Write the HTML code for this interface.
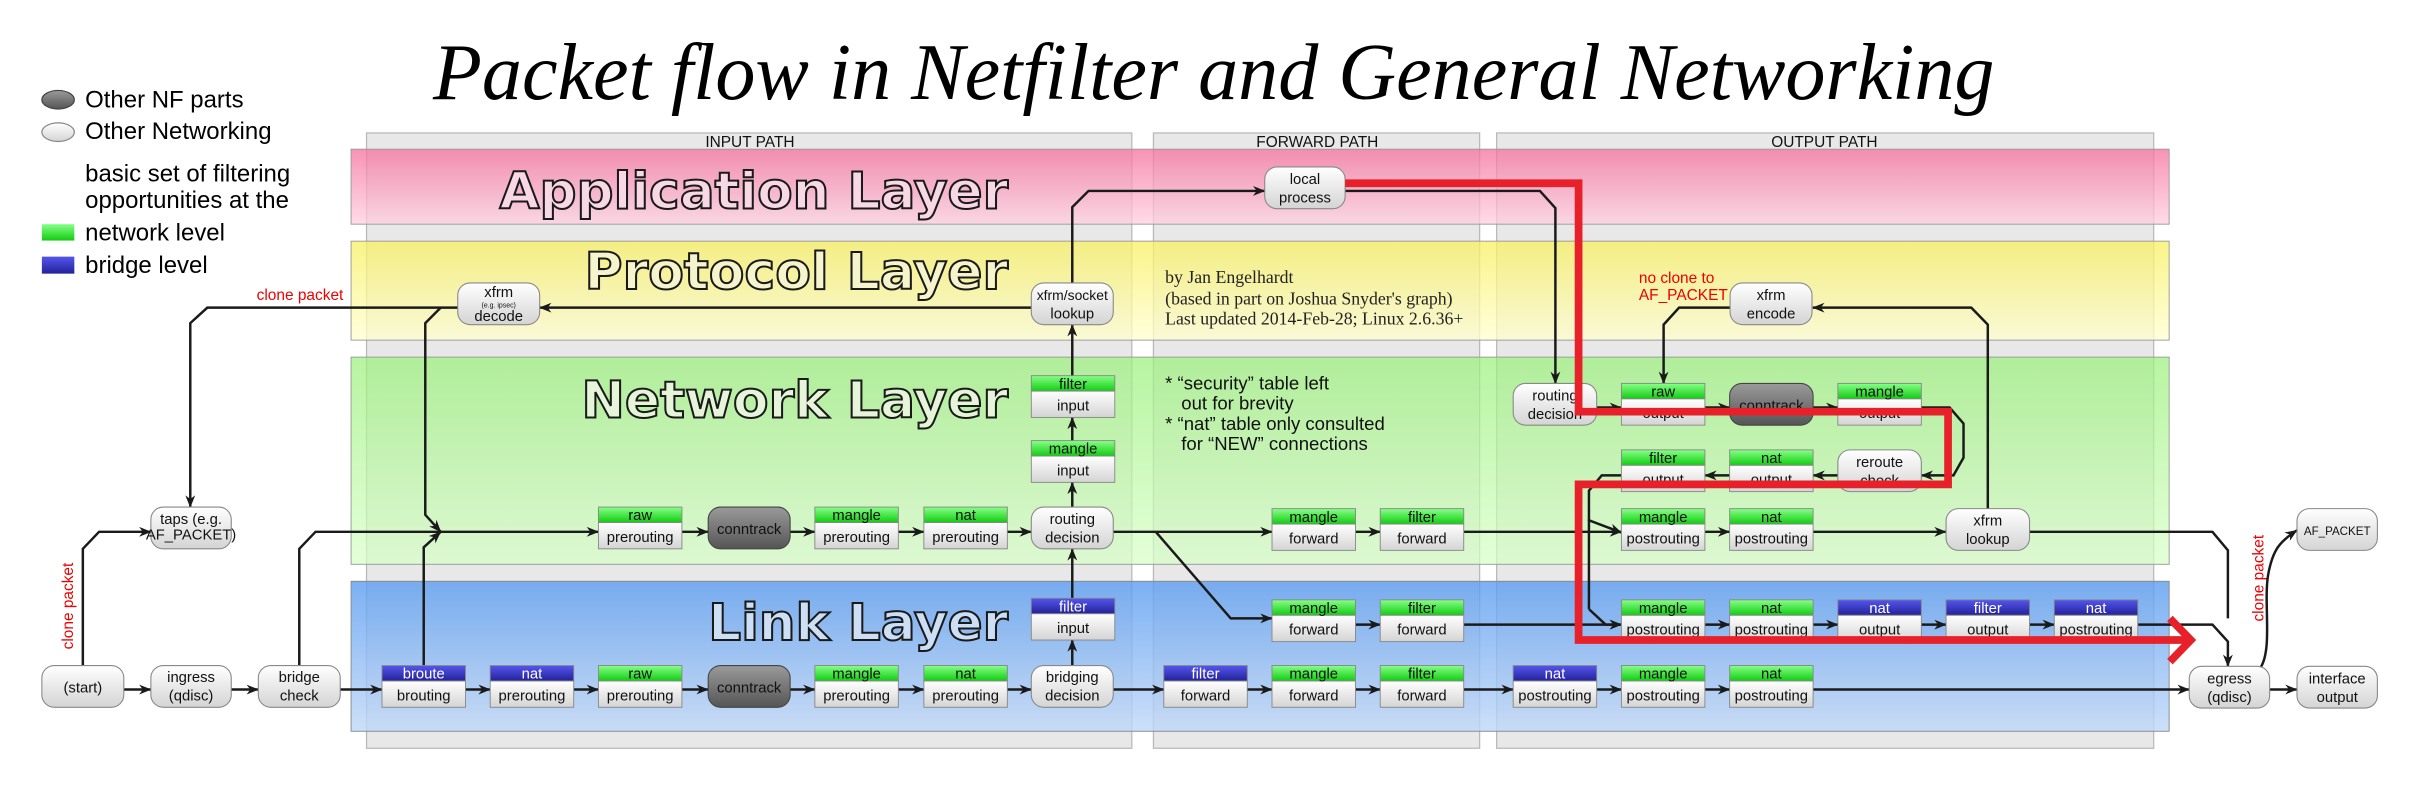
<!DOCTYPE html>
<html><head><meta charset="utf-8"><style>
html,body{margin:0;padding:0;background:#fff;}
svg{display:block;}
.n{font-family:"Liberation Sans",sans-serif;font-size:9.6px;text-anchor:middle;fill:#111;}
.hw{fill:#fff;}
.ln{fill:none;stroke:#1a1a1a;stroke-width:1.6;marker-end:url(#ar);}
.lp{fill:none;stroke:#1a1a1a;stroke-width:1.6;}
.lt{font-family:"DejaVu Sans",sans-serif;font-weight:bold;font-size:33px;stroke:#1a1a1a;stroke-width:1.3;}
</style></head><body>
<svg width="2412" height="790" viewBox="0 0 1560 511" xmlns="http://www.w3.org/2000/svg">
<defs>
<marker id="ar" viewBox="0 0 10 8" refX="9.5" refY="4" markerWidth="8" markerHeight="6.4" markerUnits="userSpaceOnUse" orient="auto"><path d="M0,0 L10,4 L0,8 L3,4 z" fill="#1a1a1a"/></marker>
<linearGradient id="gw" x1="0" y1="0" x2="0" y2="1"><stop offset="0" stop-color="#fff"/><stop offset="1" stop-color="#d4d4d4"/></linearGradient>
<linearGradient id="gd" x1="0" y1="0" x2="0" y2="1"><stop offset="0" stop-color="#9a9a9a"/><stop offset="1" stop-color="#555"/></linearGradient>
<linearGradient id="gg" x1="0" y1="0" x2="0" y2="1"><stop offset="0" stop-color="#8f8"/><stop offset="1" stop-color="#1c1"/></linearGradient>
<linearGradient id="gb" x1="0" y1="0" x2="0" y2="1"><stop offset="0" stop-color="#55e"/><stop offset="1" stop-color="#229"/></linearGradient>
<linearGradient id="bp" x1="0" y1="0" x2="0" y2="1"><stop offset="0" stop-color="#f56f9c" stop-opacity=".75"/><stop offset="1" stop-color="#ffd0e0" stop-opacity=".75"/></linearGradient>
<linearGradient id="by" x1="0" y1="0" x2="0" y2="1"><stop offset="0" stop-color="#f8f060" stop-opacity=".75"/><stop offset="1" stop-color="#ffffd0" stop-opacity=".75"/></linearGradient>
<linearGradient id="bg" x1="0" y1="0" x2="0" y2="1"><stop offset="0" stop-color="#98f078" stop-opacity=".7"/><stop offset="1" stop-color="#d8ffc8" stop-opacity=".7"/></linearGradient>
<linearGradient id="bb" x1="0" y1="0" x2="0" y2="1"><stop offset="0" stop-color="#5a9cf0" stop-opacity=".8"/><stop offset="1" stop-color="#c0d8f8" stop-opacity=".8"/></linearGradient>
</defs>

<text x="280" y="64" font-family="Liberation Serif,serif" font-style="italic" font-size="52" textLength="1010" lengthAdjust="spacingAndGlyphs" fill="#000">Packet flow in Netfilter and General Networking</text>

<ellipse cx="37.5" cy="64.5" rx="10.5" ry="6" fill="url(#gd)" stroke="#444" stroke-width=".8"/>
<ellipse cx="37.5" cy="85.5" rx="10.5" ry="6" fill="url(#gw)" stroke="#888" stroke-width=".8"/>
<g font-family="Liberation Sans,sans-serif" font-size="15.5" fill="#000">
<text x="55" y="69.5">Other NF parts</text>
<text x="55" y="90">Other Networking</text>
<text x="55" y="117.5">basic set of filtering</text>
<text x="55" y="134.7">opportunities at the</text>
<text x="55" y="155.5">network level</text>
<text x="55" y="176.7">bridge level</text>
</g>
<rect x="27" y="145" width="21" height="10.6" fill="url(#gg)"/>
<rect x="27" y="166" width="21" height="11" fill="url(#gb)"/>

<rect x="237" y="86" width="495" height="398" fill="#e8e8e8" stroke="#b8b8b8" stroke-width=".8"/>
<rect x="746" y="86" width="211" height="398" fill="#e8e8e8" stroke="#b8b8b8" stroke-width=".8"/>
<rect x="968" y="86" width="425" height="398" fill="#e8e8e8" stroke="#b8b8b8" stroke-width=".8"/>
<g font-family="Liberation Sans,sans-serif" font-size="10" text-anchor="middle" fill="#111">
<text x="485" y="95">INPUT PATH</text><text x="852" y="95">FORWARD PATH</text><text x="1180" y="95">OUTPUT PATH</text></g>

<rect x="227" y="96.5" width="1176" height="48.5" fill="url(#bp)" stroke="#999" stroke-width=".6"/>
<rect x="227" y="156" width="1176" height="64" fill="url(#by)" stroke="#999" stroke-width=".6"/>
<rect x="227" y="231" width="1176" height="134" fill="url(#bg)" stroke="#999" stroke-width=".6"/>
<rect x="227" y="376" width="1176" height="97" fill="url(#bb)" stroke="#888" stroke-width=".6"/>

<text class="lt" x="323" y="135" textLength="329" lengthAdjust="spacingAndGlyphs" fill="#f8d8e4">Application Layer</text>
<text class="lt" x="378" y="187" textLength="274" lengthAdjust="spacingAndGlyphs" fill="#f5f4cc">Protocol Layer</text>
<text class="lt" x="376" y="270" textLength="276" lengthAdjust="spacingAndGlyphs" fill="#e6f5da">Network Layer</text>
<text class="lt" x="458" y="414" textLength="194" lengthAdjust="spacingAndGlyphs" fill="#cddff5">Link Layer</text>

<g font-family="Liberation Serif,serif" font-size="11.5" fill="#222">
<text x="753.6" y="183">by Jan Engelhardt</text>
<text x="753.6" y="197">(based in part on Joshua Snyder's graph)</text>
<text x="753.6" y="210">Last updated 2014-Feb-28; Linux 2.6.36+</text>
</g>
<g font-family="Liberation Sans,sans-serif" font-size="12" fill="#111">
<text x="753.6" y="252">* “security” table left</text>
<text x="764" y="265">out for brevity</text>
<text x="753.6" y="278">* “nat” table only consulted</text>
<text x="764" y="291">for “NEW” connections</text>
</g>
<g font-family="Liberation Sans,sans-serif" font-size="10" fill="#e00">
<text x="1060" y="183">no clone to</text><text x="1060" y="194">AF_PACKET</text>
<text x="222" y="194" text-anchor="end">clone packet</text>
<text transform="translate(47,392) rotate(-90)" text-anchor="middle">clone packet</text>
<text transform="translate(1464,374) rotate(-90)" text-anchor="middle">clone packet</text>
</g>

<g>
<polyline class="ln" points="80,446 97.5,446"/>
<polyline class="ln" points="149.5,446 167,446"/>
<polyline class="ln" points="220,446 247,446"/>
<polyline class="ln" points="301,446 317,446"/>
<polyline class="ln" points="371,446 387,446"/>
<polyline class="ln" points="441,446 458,446"/>
<polyline class="ln" points="511,446 527,446"/>
<polyline class="ln" points="581,446 597.5,446"/>
<polyline class="ln" points="651.5,446 667,446"/>
<polyline class="ln" points="720,446 752.7,446"/>
<polyline class="ln" points="806.7,446 822.7,446"/>
<polyline class="ln" points="876.7,446 892.7,446"/>
<polyline class="ln" points="946.7,446 978.7,446"/>
<polyline class="ln" points="1032.7,446 1048.7,446"/>
<polyline class="ln" points="1102.7,446 1118.7,446"/>
<polyline class="ln" points="1172.7,446 1416,446"/>
<polyline class="ln" points="1468,446 1485.7,446"/>
<polyline class="ln" points="693.5,430.5 693.5,414"/>
<polyline class="ln" points="693.5,387 693.5,355"/>
<polyline class="ln" points="693.5,328 693.5,312"/>
<polyline class="ln" points="693.5,285 693.5,270"/>
<polyline class="ln" points="693.5,243 693.5,210"/>
<polyline class="ln" points="693.5,183 693.5,134 704,123.5 818,123.5"/>
<polyline class="ln" points="667,199 349,199"/>
<polyline class="ln" points="296,199 134,199 123,209 123,328"/>
<polyline class="ln" points="285,199 275,209 275,333 285,344"/>
<polyline class="ln" points="274,430.5 274,354 285,344"/>
<polyline class="ln" points="193.5,430.5 193.5,355 204,344 387,344"/>
<polyline class="ln" points="53.5,430.5 53.5,355 64,344 97.5,344"/>
<polyline class="ln" points="441,344 458,344"/>
<polyline class="ln" points="511,344 527,344"/>
<polyline class="ln" points="581,344 597.5,344"/>
<polyline class="ln" points="651.5,344 667,344"/>
<polyline class="ln" points="720,344 822.7,344"/>
<polyline class="ln" points="747.5,344 796,400 822.7,400"/>
<polyline class="ln" points="876.7,344 892.7,344"/>
<polyline class="ln" points="946.7,344 1048.7,344"/>
<polyline class="ln" points="1102.7,344 1118.7,344"/>
<polyline class="ln" points="1172.7,344 1258.7,344"/>
<polyline class="lp" points="1312.7,344 1431,344 1441,356 1441,400"/>
<polyline class="ln" points="876.7,404 892.7,404"/>
<polyline class="ln" points="946.7,404 1048.7,404"/>
<polyline class="ln" points="1102.7,404 1118.7,404"/>
<polyline class="ln" points="1172.7,404 1188.7,404"/>
<polyline class="ln" points="1242.7,404 1258.7,404"/>
<polyline class="ln" points="1312.7,404 1328.7,404"/>
<polyline class="ln" points="1382.7,404 1431,404 1441,415 1441,431"/>
<polyline class="ln" points="1285.7,329 1285.7,210 1275,199 1172.5,199"/>
<polyline class="ln" points="1119,199 1086,199 1076,210 1076,248"/>
<polyline class="ln" points="870,123.5 996,123.5 1006,134.6 1006,248"/>
<polyline class="ln" points="1032.7,263.6 1048.7,263.6"/>
<polyline class="ln" points="1102.7,263.6 1118.7,263.6"/>
<polyline class="ln" points="1172.7,263.6 1188.7,263.6"/>
<polyline class="ln" points="1242.7,263.6 1261,263.6 1270,274 1270,296 1263.5,307.5 1242.7,307.5"/>
<polyline class="ln" points="1188.7,307.5 1172.7,307.5"/>
<polyline class="ln" points="1118.7,307.5 1102.7,307.5"/>
<polyline class="lp" points="1048.7,307.5 1036,307.5 1027.7,317.4 1027.7,394"/>
<polyline class="ln" points="1027.7,336 1027.7,336.5 1048.7,344.5"/>
<polyline class="ln" points="1027.7,394 1038.5,404 1048.7,404"/>
<path class="ln" d="M1462,432 C1470,420 1464,390 1467,372 C1470,355 1475,350 1485.7,343"/>
</g>

<g stroke="#888" stroke-width=".6">
<rect x="247" y="430.5" width="54" height="10" fill="url(#gb)"/><rect x="247" y="440.5" width="54" height="17" fill="url(#gw)"/>
<rect x="317" y="430.5" width="54" height="10" fill="url(#gb)"/><rect x="317" y="440.5" width="54" height="17" fill="url(#gw)"/>
<rect x="387" y="430.5" width="54" height="10" fill="url(#gg)"/><rect x="387" y="440.5" width="54" height="17" fill="url(#gw)"/>
<rect x="527" y="430.5" width="54" height="10" fill="url(#gg)"/><rect x="527" y="440.5" width="54" height="17" fill="url(#gw)"/>
<rect x="597.5" y="430.5" width="54" height="10" fill="url(#gg)"/><rect x="597.5" y="440.5" width="54" height="17" fill="url(#gw)"/>
<rect x="752.7" y="430.5" width="54" height="10" fill="url(#gb)"/><rect x="752.7" y="440.5" width="54" height="17" fill="url(#gw)"/>
<rect x="822.7" y="430.5" width="54" height="10" fill="url(#gg)"/><rect x="822.7" y="440.5" width="54" height="17" fill="url(#gw)"/>
<rect x="892.7" y="430.5" width="54" height="10" fill="url(#gg)"/><rect x="892.7" y="440.5" width="54" height="17" fill="url(#gw)"/>
<rect x="978.7" y="430.5" width="54" height="10" fill="url(#gb)"/><rect x="978.7" y="440.5" width="54" height="17" fill="url(#gw)"/>
<rect x="1048.7" y="430.5" width="54" height="10" fill="url(#gg)"/><rect x="1048.7" y="440.5" width="54" height="17" fill="url(#gw)"/>
<rect x="1118.7" y="430.5" width="54" height="10" fill="url(#gg)"/><rect x="1118.7" y="440.5" width="54" height="17" fill="url(#gw)"/>
<rect x="667" y="387" width="54" height="10" fill="url(#gb)"/><rect x="667" y="397" width="54" height="17" fill="url(#gw)"/>
<rect x="387" y="328" width="54" height="10" fill="url(#gg)"/><rect x="387" y="338" width="54" height="17" fill="url(#gw)"/>
<rect x="527" y="328" width="54" height="10" fill="url(#gg)"/><rect x="527" y="338" width="54" height="17" fill="url(#gw)"/>
<rect x="597.5" y="328" width="54" height="10" fill="url(#gg)"/><rect x="597.5" y="338" width="54" height="17" fill="url(#gw)"/>
<rect x="822.7" y="329" width="54" height="10" fill="url(#gg)"/><rect x="822.7" y="339" width="54" height="17" fill="url(#gw)"/>
<rect x="892.7" y="329" width="54" height="10" fill="url(#gg)"/><rect x="892.7" y="339" width="54" height="17" fill="url(#gw)"/>
<rect x="1048.7" y="329" width="54" height="10" fill="url(#gg)"/><rect x="1048.7" y="339" width="54" height="17" fill="url(#gw)"/>
<rect x="1118.7" y="329" width="54" height="10" fill="url(#gg)"/><rect x="1118.7" y="339" width="54" height="17" fill="url(#gw)"/>
<rect x="667" y="285" width="54" height="10" fill="url(#gg)"/><rect x="667" y="295" width="54" height="17" fill="url(#gw)"/>
<rect x="667" y="243" width="54" height="10" fill="url(#gg)"/><rect x="667" y="253" width="54" height="17" fill="url(#gw)"/>
<rect x="822.7" y="388" width="54" height="10" fill="url(#gg)"/><rect x="822.7" y="398" width="54" height="17" fill="url(#gw)"/>
<rect x="892.7" y="388" width="54" height="10" fill="url(#gg)"/><rect x="892.7" y="398" width="54" height="17" fill="url(#gw)"/>
<rect x="1048.7" y="388" width="54" height="10" fill="url(#gg)"/><rect x="1048.7" y="398" width="54" height="17" fill="url(#gw)"/>
<rect x="1118.7" y="388" width="54" height="10" fill="url(#gg)"/><rect x="1118.7" y="398" width="54" height="17" fill="url(#gw)"/>
<rect x="1188.7" y="388" width="54" height="10" fill="url(#gb)"/><rect x="1188.7" y="398" width="54" height="17" fill="url(#gw)"/>
<rect x="1258.7" y="388" width="54" height="10" fill="url(#gb)"/><rect x="1258.7" y="398" width="54" height="17" fill="url(#gw)"/>
<rect x="1328.7" y="388" width="54" height="10" fill="url(#gb)"/><rect x="1328.7" y="398" width="54" height="17" fill="url(#gw)"/>
<rect x="1048.7" y="248" width="54" height="10" fill="url(#gg)"/><rect x="1048.7" y="258" width="54" height="17" fill="url(#gw)"/>
<rect x="1188.7" y="248" width="54" height="10" fill="url(#gg)"/><rect x="1188.7" y="258" width="54" height="17" fill="url(#gw)"/>
<rect x="1048.7" y="291" width="54" height="10" fill="url(#gg)"/><rect x="1048.7" y="301" width="54" height="17" fill="url(#gw)"/>
<rect x="1118.7" y="291" width="54" height="10" fill="url(#gg)"/><rect x="1118.7" y="301" width="54" height="17" fill="url(#gw)"/>
</g>
<g>
<text class="n hw" x="274" y="439">broute</text><text class="n" x="274" y="453">brouting</text>
<text class="n hw" x="344" y="439">nat</text><text class="n" x="344" y="453">prerouting</text>
<text class="n" x="414" y="439">raw</text><text class="n" x="414" y="453">prerouting</text>
<text class="n" x="554" y="439">mangle</text><text class="n" x="554" y="453">prerouting</text>
<text class="n" x="624.5" y="439">nat</text><text class="n" x="624.5" y="453">prerouting</text>
<text class="n hw" x="779.7" y="439">filter</text><text class="n" x="779.7" y="453">forward</text>
<text class="n" x="849.7" y="439">mangle</text><text class="n" x="849.7" y="453">forward</text>
<text class="n" x="919.7" y="439">filter</text><text class="n" x="919.7" y="453">forward</text>
<text class="n hw" x="1005.7" y="439">nat</text><text class="n" x="1005.7" y="453">postrouting</text>
<text class="n" x="1075.7" y="439">mangle</text><text class="n" x="1075.7" y="453">postrouting</text>
<text class="n" x="1145.7" y="439">nat</text><text class="n" x="1145.7" y="453">postrouting</text>
<text class="n hw" x="694" y="395.5">filter</text><text class="n" x="694" y="409.5">input</text>
<text class="n" x="414" y="336.5">raw</text><text class="n" x="414" y="350.5">prerouting</text>
<text class="n" x="554" y="336.5">mangle</text><text class="n" x="554" y="350.5">prerouting</text>
<text class="n" x="624.5" y="336.5">nat</text><text class="n" x="624.5" y="350.5">prerouting</text>
<text class="n" x="849.7" y="337.5">mangle</text><text class="n" x="849.7" y="351.5">forward</text>
<text class="n" x="919.7" y="337.5">filter</text><text class="n" x="919.7" y="351.5">forward</text>
<text class="n" x="1075.7" y="337.5">mangle</text><text class="n" x="1075.7" y="351.5">postrouting</text>
<text class="n" x="1145.7" y="337.5">nat</text><text class="n" x="1145.7" y="351.5">postrouting</text>
<text class="n" x="694" y="293.5">mangle</text><text class="n" x="694" y="307.5">input</text>
<text class="n" x="694" y="251.5">filter</text><text class="n" x="694" y="265.5">input</text>
<text class="n" x="849.7" y="396.5">mangle</text><text class="n" x="849.7" y="410.5">forward</text>
<text class="n" x="919.7" y="396.5">filter</text><text class="n" x="919.7" y="410.5">forward</text>
<text class="n" x="1075.7" y="396.5">mangle</text><text class="n" x="1075.7" y="410.5">postrouting</text>
<text class="n" x="1145.7" y="396.5">nat</text><text class="n" x="1145.7" y="410.5">postrouting</text>
<text class="n hw" x="1215.7" y="396.5">nat</text><text class="n" x="1215.7" y="410.5">output</text>
<text class="n hw" x="1285.7" y="396.5">filter</text><text class="n" x="1285.7" y="410.5">output</text>
<text class="n hw" x="1355.7" y="396.5">nat</text><text class="n" x="1355.7" y="410.5">postrouting</text>
<text class="n" x="1075.7" y="256.5">raw</text><text class="n" x="1075.7" y="270.5">output</text>
<text class="n" x="1215.7" y="256.5">mangle</text><text class="n" x="1215.7" y="270.5">output</text>
<text class="n" x="1075.7" y="299.5">filter</text><text class="n" x="1075.7" y="313.5">output</text>
<text class="n" x="1145.7" y="299.5">nat</text><text class="n" x="1145.7" y="313.5">output</text>
</g>

<g stroke="#888" stroke-width=".7">
<rect x="27" y="430.5" width="53" height="27" rx="8" fill="url(#gw)"/>
<rect x="97.5" y="430.5" width="52" height="27" rx="8" fill="url(#gw)"/>
<rect x="167" y="430.5" width="53" height="27" rx="8" fill="url(#gw)"/>
<rect x="458" y="430.5" width="53" height="27" rx="8" fill="url(#gd)" stroke="#444"/>
<rect x="458" y="328" width="53" height="27" rx="8" fill="url(#gd)" stroke="#444"/>
<rect x="1118.7" y="248" width="54" height="27" rx="8" fill="url(#gd)" stroke="#444"/>
<rect x="667" y="430.5" width="53" height="27" rx="8" fill="url(#gw)"/>
<rect x="667" y="328" width="53" height="27" rx="8" fill="url(#gw)"/>
<rect x="97.5" y="328" width="52" height="27" rx="8" fill="url(#gw)"/>
<rect x="296" y="183" width="53" height="27" rx="8" fill="url(#gw)"/>
<rect x="667" y="183" width="53" height="27" rx="8" fill="url(#gw)"/>
<rect x="818" y="108" width="52" height="27" rx="8" fill="url(#gw)"/>
<rect x="978.7" y="248" width="54" height="27" rx="8" fill="url(#gw)"/>
<rect x="1188.7" y="291" width="54" height="27" rx="8" fill="url(#gw)"/>
<rect x="1258.7" y="329" width="54" height="27" rx="8" fill="url(#gw)"/>
<rect x="1119" y="183" width="53" height="27" rx="8" fill="url(#gw)"/>
<rect x="1416" y="431" width="52" height="27" rx="8" fill="url(#gw)"/>
<rect x="1485.7" y="431" width="52" height="27" rx="8" fill="url(#gw)"/>
<rect x="1485.7" y="329" width="52" height="27" rx="8" fill="url(#gw)"/>
</g>
<g>
<text class="n" x="53.5" y="448">(start)</text>
<text class="n" x="123.5" y="441">ingress</text><text class="n" x="123.5" y="453">(qdisc)</text>
<text class="n" x="193.5" y="441">bridge</text><text class="n" x="193.5" y="453">check</text>
<text class="n" x="484.5" y="448">conntrack</text>
<text class="n" x="484.5" y="345.5">conntrack</text>
<text class="n" x="1145.7" y="265.5">conntrack</text>
<text class="n" x="693.5" y="441">bridging</text><text class="n" x="693.5" y="453">decision</text>
<text class="n" x="693.5" y="339">routing</text><text class="n" x="693.5" y="351">decision</text>
<text class="n" x="123.5" y="339" font-size="6.5">taps (e.g.</text><text class="n" x="123.5" y="349" font-size="6.5">AF_PACKET)</text>
<text class="n" x="322.5" y="192">xfrm</text><text class="n" x="322.5" y="199" style="font-size:4.5px">(e.g. ipsec)</text><text class="n" x="322.5" y="207.5">decode</text>
<text class="n" x="693.5" y="194" style="font-size:9px">xfrm/socket</text><text class="n" x="693.5" y="206">lookup</text>
<text class="n" x="844" y="119">local</text><text class="n" x="844" y="131">process</text>
<text class="n" x="1005.7" y="259">routing</text><text class="n" x="1005.7" y="271">decision</text>
<text class="n" x="1215.7" y="302">reroute</text><text class="n" x="1215.7" y="314">check</text>
<text class="n" x="1285.7" y="340">xfrm</text><text class="n" x="1285.7" y="352">lookup</text>
<text class="n" x="1145.5" y="194">xfrm</text><text class="n" x="1145.5" y="206">encode</text>
<text class="n" x="1442" y="442">egress</text><text class="n" x="1442" y="454">(qdisc)</text>
<text class="n" x="1511.7" y="442">interface</text><text class="n" x="1511.7" y="454">output</text>
<text class="n" x="1511.7" y="346" style="font-size:7.5px">AF_PACKET</text>
</g>

<g fill="none" stroke="#e8202a" stroke-width="5" stroke-linejoin="miter">
<polyline points="870,118.5 1021,118.5 1021,266.3 1260,266.3 1260,313.3 1021,313.3 1021,414 1417,414"/>
<polyline points="1403.5,400 1417,414 1403.5,428"/>
</g>
</svg>
</body></html>
